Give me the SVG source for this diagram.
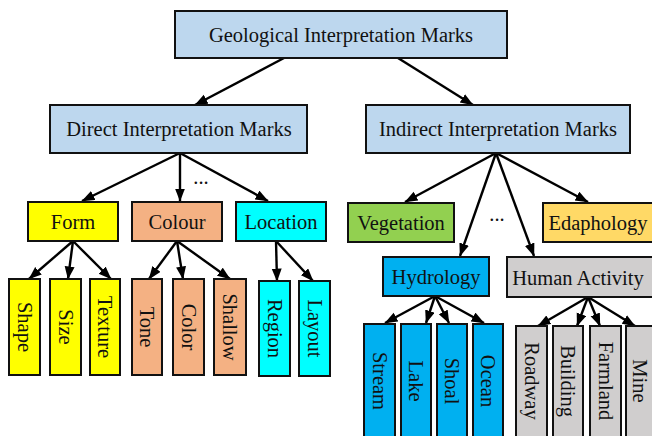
<svg xmlns="http://www.w3.org/2000/svg" width="652" height="436" viewBox="0 0 652 436">
<defs>
<marker id="ah" markerUnits="userSpaceOnUse" markerWidth="13" markerHeight="11" refX="12.5" refY="5" orient="auto">
<path d="M0,0 L13,5 L0,10 Z" fill="#000"/>
</marker>
<style>
rect{stroke:#111;stroke-width:2}
text{font-family:"Liberation Serif","Times New Roman",serif;font-size:20.5px;fill:#111;text-anchor:middle}
.v{dominant-baseline:central}
.hd{fill:#BDD7EE}
.ye{fill:#FFFF00}
.sa{fill:#F4B183}
.cy{fill:#00FFFF}
.gr{fill:#92D050}
.go{fill:#FFD966}
.bl{fill:#00B0F0}
.gy{fill:#D0CECE}
#edges line{stroke:#000;stroke-width:2.4;marker-end:url(#ah)}
</style>
</defs>
<rect width="652" height="436" fill="#fff" style="stroke:none"/>
<g id="edges">
<line x1="284" y1="58" x2="195" y2="105"/>
<line x1="398" y1="58" x2="473" y2="105"/>
<line x1="180" y1="153" x2="82" y2="201"/>
<line x1="180" y1="153" x2="180" y2="201"/>
<line x1="180" y1="153" x2="268" y2="201"/>
<line x1="496" y1="153" x2="405" y2="202"/>
<line x1="496" y1="153" x2="460" y2="256"/>
<line x1="496" y1="153" x2="534" y2="256"/>
<line x1="496" y1="153" x2="588" y2="202"/>
<line x1="73" y1="241" x2="29" y2="279"/>
<line x1="73" y1="241" x2="68" y2="279"/>
<line x1="73" y1="241" x2="111" y2="279"/>
<line x1="177" y1="241" x2="149" y2="279"/>
<line x1="177" y1="241" x2="183" y2="279"/>
<line x1="177" y1="241" x2="230" y2="279"/>
<line x1="276" y1="241" x2="277" y2="281"/>
<line x1="276" y1="241" x2="313" y2="281"/>
<line x1="435" y1="296" x2="385" y2="323"/>
<line x1="435" y1="296" x2="426" y2="323"/>
<line x1="435" y1="296" x2="449" y2="323"/>
<line x1="435" y1="296" x2="484" y2="323"/>
<line x1="588" y1="297" x2="538" y2="326"/>
<line x1="588" y1="297" x2="577" y2="326"/>
<line x1="588" y1="297" x2="600" y2="326"/>
<line x1="588" y1="297" x2="635" y2="326"/>
</g>
<text x="201" y="184">...</text>
<text x="497" y="221">...</text>
<g id="n-geo"><rect class="hd" x="175" y="11" width="332" height="47"/><text x="341" y="42">Geological Interpretation Marks</text></g>
<g id="n-direct"><rect class="hd" x="50" y="105" width="257" height="48"/><text x="179" y="136">Direct Interpretation Marks</text></g>
<g id="n-indirect"><rect class="hd" x="366" y="105" width="264" height="48"/><text x="498" y="136">Indirect Interpretation Marks</text></g>
<g id="n-form"><rect class="ye" x="28" y="202" width="90" height="39"/><text x="73" y="229">Form</text></g>
<g id="n-colour"><rect class="sa" x="132" y="202" width="90" height="39"/><text x="177" y="229">Colour</text></g>
<g id="n-location"><rect class="cy" x="236" y="202" width="90" height="39"/><text x="281" y="229">Location</text></g>
<g id="n-vegetation"><rect class="gr" x="348" y="203" width="106" height="39"/><text x="401" y="230">Vegetation</text></g>
<g id="n-edaphology"><rect class="go" x="543" y="203" width="113" height="39"/><text x="598" y="230">Edaphology</text></g>
<g id="n-hydrology"><rect class="bl" x="383" y="257" width="106" height="39"/><text x="436" y="284">Hydrology</text></g>
<g id="n-human"><rect class="gy" x="507" y="257" width="149" height="40"/><text x="578" y="285">Human Activity</text></g>
<g id="n-shape"><rect class="ye" x="9" y="279" width="31" height="96"/><text class="v" transform="translate(24.5,327) rotate(90)">Shape</text></g>
<g id="n-size"><rect class="ye" x="50" y="279" width="31" height="96"/><text class="v" transform="translate(65.5,327) rotate(90)">Size</text></g>
<g id="n-texture"><rect class="ye" x="90" y="279" width="30" height="96"/><text class="v" transform="translate(105,327) rotate(90)">Texture</text></g>
<g id="n-tone"><rect class="sa" x="132" y="279" width="30" height="96"/><text class="v" transform="translate(147,327) rotate(90)">Tone</text></g>
<g id="n-color"><rect class="sa" x="173" y="279" width="31" height="96"/><text class="v" transform="translate(188.5,327) rotate(90)">Color</text></g>
<g id="n-shallow"><rect class="sa" x="214" y="279" width="32" height="96"/><text class="v" transform="translate(230,327) rotate(90)">Shallow</text></g>
<g id="n-region"><rect class="cy" x="259" y="281" width="31" height="95"/><text class="v" transform="translate(274.5,328.5) rotate(90)">Region</text></g>
<g id="n-layout"><rect class="cy" x="299" y="281" width="31" height="95"/><text class="v" transform="translate(314.5,328.5) rotate(90)">Layout</text></g>
<g id="n-stream"><rect class="bl" x="364" y="324" width="31" height="118"/><text class="v" transform="translate(379.5,381) rotate(90)">Stream</text></g>
<g id="n-lake"><rect class="bl" x="401" y="324" width="30" height="118"/><text class="v" transform="translate(416,381) rotate(90)">Lake</text></g>
<g id="n-shoal"><rect class="bl" x="437" y="324" width="30" height="118"/><text class="v" transform="translate(452,381) rotate(90)">Shoal</text></g>
<g id="n-ocean"><rect class="bl" x="473" y="324" width="30" height="118"/><text class="v" transform="translate(488,381) rotate(90)">Ocean</text></g>
<g id="n-roadway"><rect class="gy" x="516" y="326" width="31" height="116"/><text class="v" transform="translate(531.5,381) rotate(90)">Roadway</text></g>
<g id="n-building"><rect class="gy" x="553" y="326" width="30" height="116"/><text class="v" transform="translate(568,381) rotate(90)">Building</text></g>
<g id="n-farmland"><rect class="gy" x="590" y="326" width="31" height="116"/><text class="v" transform="translate(605.5,381) rotate(90)">Farmland</text></g>
<g id="n-mine"><rect class="gy" x="626" y="326" width="30" height="116"/><text class="v" transform="translate(640,381) rotate(90)">Mine</text></g>
</svg>
